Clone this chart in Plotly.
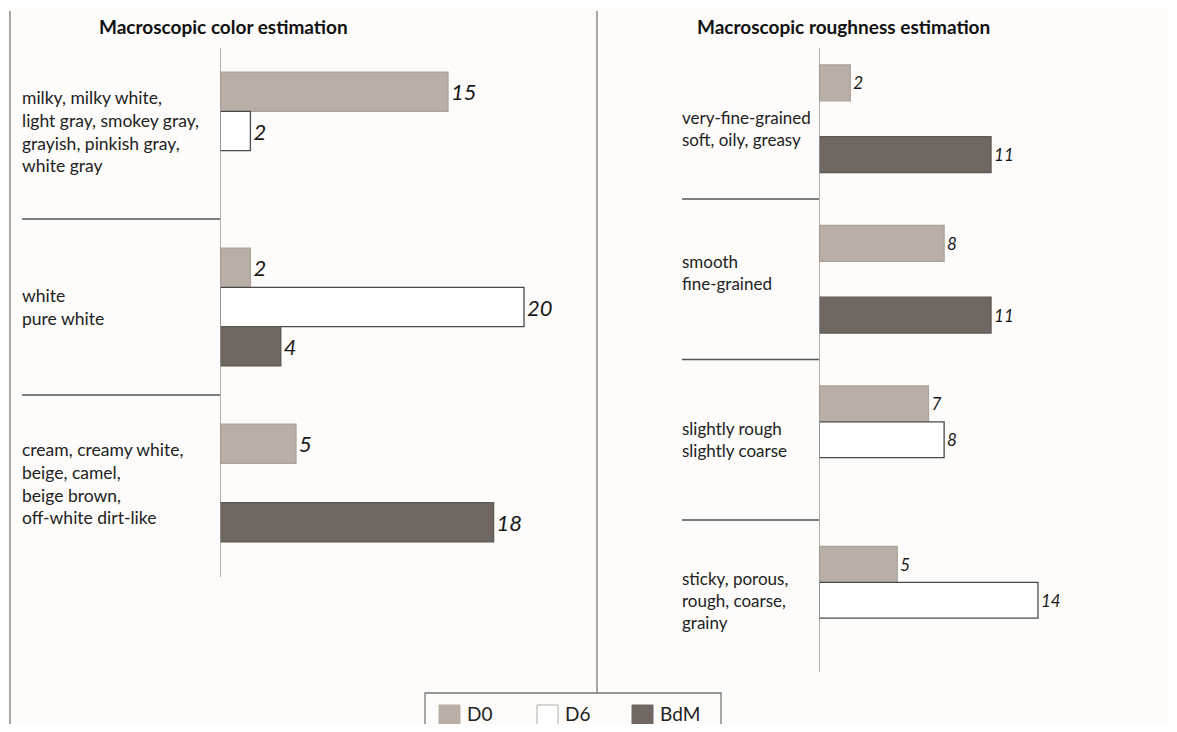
import plotly.graph_objects as go

# page window 1177x732; the html body has an 8px margin, so the figure is 8px in
PAGE_W, PAGE_H = 1177, 732
OFF = 8
W, H = PAGE_W - 2 * OFF, PAGE_H - 2 * OFF

# ---------------- data ----------------
series_names = ["D0", "D6", "BdM"]
series_colors = ["#b9afa7", "#ffffff", "#6e6762"]
series_lines = ["#aca39b", "#4a4a4a", "#5e5853"]

color_title = "Macroscopic color estimation"
color_categories = [
    "milky, milky white,\nlight gray, smokey gray,\ngrayish, pinkish gray,\nwhite gray",
    "white\npure white",
    "cream, creamy white,\nbeige, camel,\nbeige brown,\noff-white dirt-like",
]
color_D0 = [15, 2, 5]
color_D6 = [2, 20, None]
color_BdM = [None, 4, 18]

rough_title = "Macroscopic roughness estimation"
rough_categories = [
    "very-fine-grained\nsoft, oily, greasy",
    "smooth\nfine-grained",
    "slightly rough\nslightly coarse",
    "sticky, porous,\nrough, coarse,\ngrainy",
]
rough_D0 = [2, 8, 7, 5]
rough_D6 = [None, None, 8, 14]
rough_BdM = [11, 11, None, None]

# ---------------- helpers (page pixels -> paper) ----------------
def px(x):
    return (x - OFF) / W

def py(y):
    return 1 - (y - OFF) / H

FONT = "Lato"
BG = "#fdfcfa"

fig = go.Figure()

panels = [
    dict(cats=color_categories, vals=[color_D0, color_D6, color_BdM],
         xa="x", ya="y", tsize=22),
    dict(cats=rough_categories, vals=[rough_D0, rough_D6, rough_BdM],
         xa="x2", ya="y2", tsize=17),
]

for p in panels:
    ycats = [c.replace("\n", " ") for c in p["cats"]]
    for name, vals, fc, lc in zip(series_names, p["vals"], series_colors, series_lines):
        fig.add_trace(go.Bar(
            y=ycats, x=vals, name=name, orientation="h",
            marker=dict(color=fc, line=dict(color=lc, width=1.3)),
            text=vals, textposition="outside", texttemplate="%{x}",
            textfont=dict(family=FONT, size=p["tsize"], color="#1a1a1a", style="italic"),
            cliponaxis=False, showlegend=False,
            xaxis=p["xa"], yaxis=p["ya"],
        ))

# axes (pixel-calibrated domains)
L0, LSCALE = 220, 15.2
R0, RSCALE = 819, 15.64
LX1, RX1 = 570, 1160
fig.update_layout(
    width=W, height=H,
    margin=dict(l=0, r=0, t=0, b=0),
    paper_bgcolor=BG, plot_bgcolor=BG,
    barmode="group", bargap=0.33, bargroupgap=0,
    font=dict(family=FONT, color="#222"),
    xaxis=dict(domain=[px(L0), px(LX1)], range=[0, (LX1 - L0) / LSCALE],
               visible=False, anchor="y"),
    yaxis=dict(domain=[py(571), py(43)], autorange="reversed", type="category",
               visible=False, anchor="x"),
    xaxis2=dict(domain=[px(R0), px(RX1)], range=[0, (RX1 - R0) / RSCALE],
                visible=False, anchor="y2"),
    yaxis2=dict(domain=[py(680.5), py(38.5)], autorange="reversed", type="category",
                visible=False, anchor="x2"),
)

shapes = []
annotations = []
line_gray = "#8f8a86"

# outer border / divider lines
shapes.append(dict(type="line", xref="paper", yref="paper", x0=px(10), x1=px(10),
                   y0=py(11), y1=py(740), line=dict(color=line_gray, width=1.5)))
shapes.append(dict(type="line", xref="paper", yref="paper", x0=px(597), x1=px(597),
                   y0=py(11), y1=py(693), line=dict(color=line_gray, width=1.5)))

# axis lines
shapes.append(dict(type="line", xref="x", yref="paper", x0=0, x1=0,
                   y0=py(48), y1=py(577), line=dict(color="#9a9490", width=1.5)))
shapes.append(dict(type="line", xref="x2", yref="paper", x0=0, x1=0,
                   y0=py(48), y1=py(672), line=dict(color="#9a9490", width=1.5)))

# separators between categories
for i in range(len(color_categories) - 1):
    shapes.append(dict(type="line", xref="paper", yref="y", x0=px(22), x1=px(L0),
                       y0=i + 0.5, y1=i + 0.5, line=dict(color="#555", width=1.5)))
for i in range(len(rough_categories) - 1):
    shapes.append(dict(type="line", xref="paper", yref="y2", x0=px(682), x1=px(R0),
                       y0=i + 0.5, y1=i + 0.5, line=dict(color="#555", width=1.5)))

# category labels
for i, c in enumerate(color_categories):
    annotations.append(dict(xref="paper", yref="y", x=px(20), y=c.replace("\n", " "),
                            text=c.replace("\n", "<br>"), showarrow=False,
                            xanchor="left", yanchor="middle", align="left",
                            font=dict(family=FONT, size=17.5, color="#222")))
rough_shift = [-10, 7, 0, 0]
for i, c in enumerate(rough_categories):
    annotations.append(dict(xref="paper", yref="y2", x=px(680), y=c.replace("\n", " "),
                            text=c.replace("\n", "<br>"), showarrow=False,
                            xanchor="left", yanchor="middle", align="left",
                            yshift=rough_shift[i],
                            font=dict(family=FONT, size=17, color="#222")))

# titles
annotations.append(dict(xref="paper", yref="paper", x=px(223), y=py(26), text="<b>" + color_title + "</b>",
                        showarrow=False, xanchor="center", yanchor="middle",
                        font=dict(family=FONT, size=19, color="#111")))
annotations.append(dict(xref="paper", yref="paper", x=px(843), y=py(26), text="<b>" + rough_title + "</b>",
                        showarrow=False, xanchor="center", yanchor="middle",
                        font=dict(family=FONT, size=19, color="#111")))

# manual legend
shapes.append(dict(type="rect", xref="paper", yref="paper", x0=px(425), x1=px(721),
                   y0=py(693), y1=py(760), line=dict(color="#777", width=1.3), fillcolor=BG))
leg_x = [439, 537, 632]
for name, fc, lc, lx in zip(series_names, series_colors, series_lines, leg_x):
    shapes.append(dict(type="rect", xref="paper", yref="paper", x0=px(lx), x1=px(lx + 21),
                       y0=py(705), y1=py(726), fillcolor=fc,
                       line=dict(color="#b0aaa5" if fc == "#ffffff" else fc, width=1)))
    annotations.append(dict(xref="paper", yref="paper", x=px(lx + 26), y=py(713), text=name,
                            showarrow=False, xanchor="left", yanchor="middle",
                            font=dict(family=FONT, size=19, color="#222")))

fig.update_layout(shapes=shapes, annotations=annotations)
fig.write_html("out.html")
